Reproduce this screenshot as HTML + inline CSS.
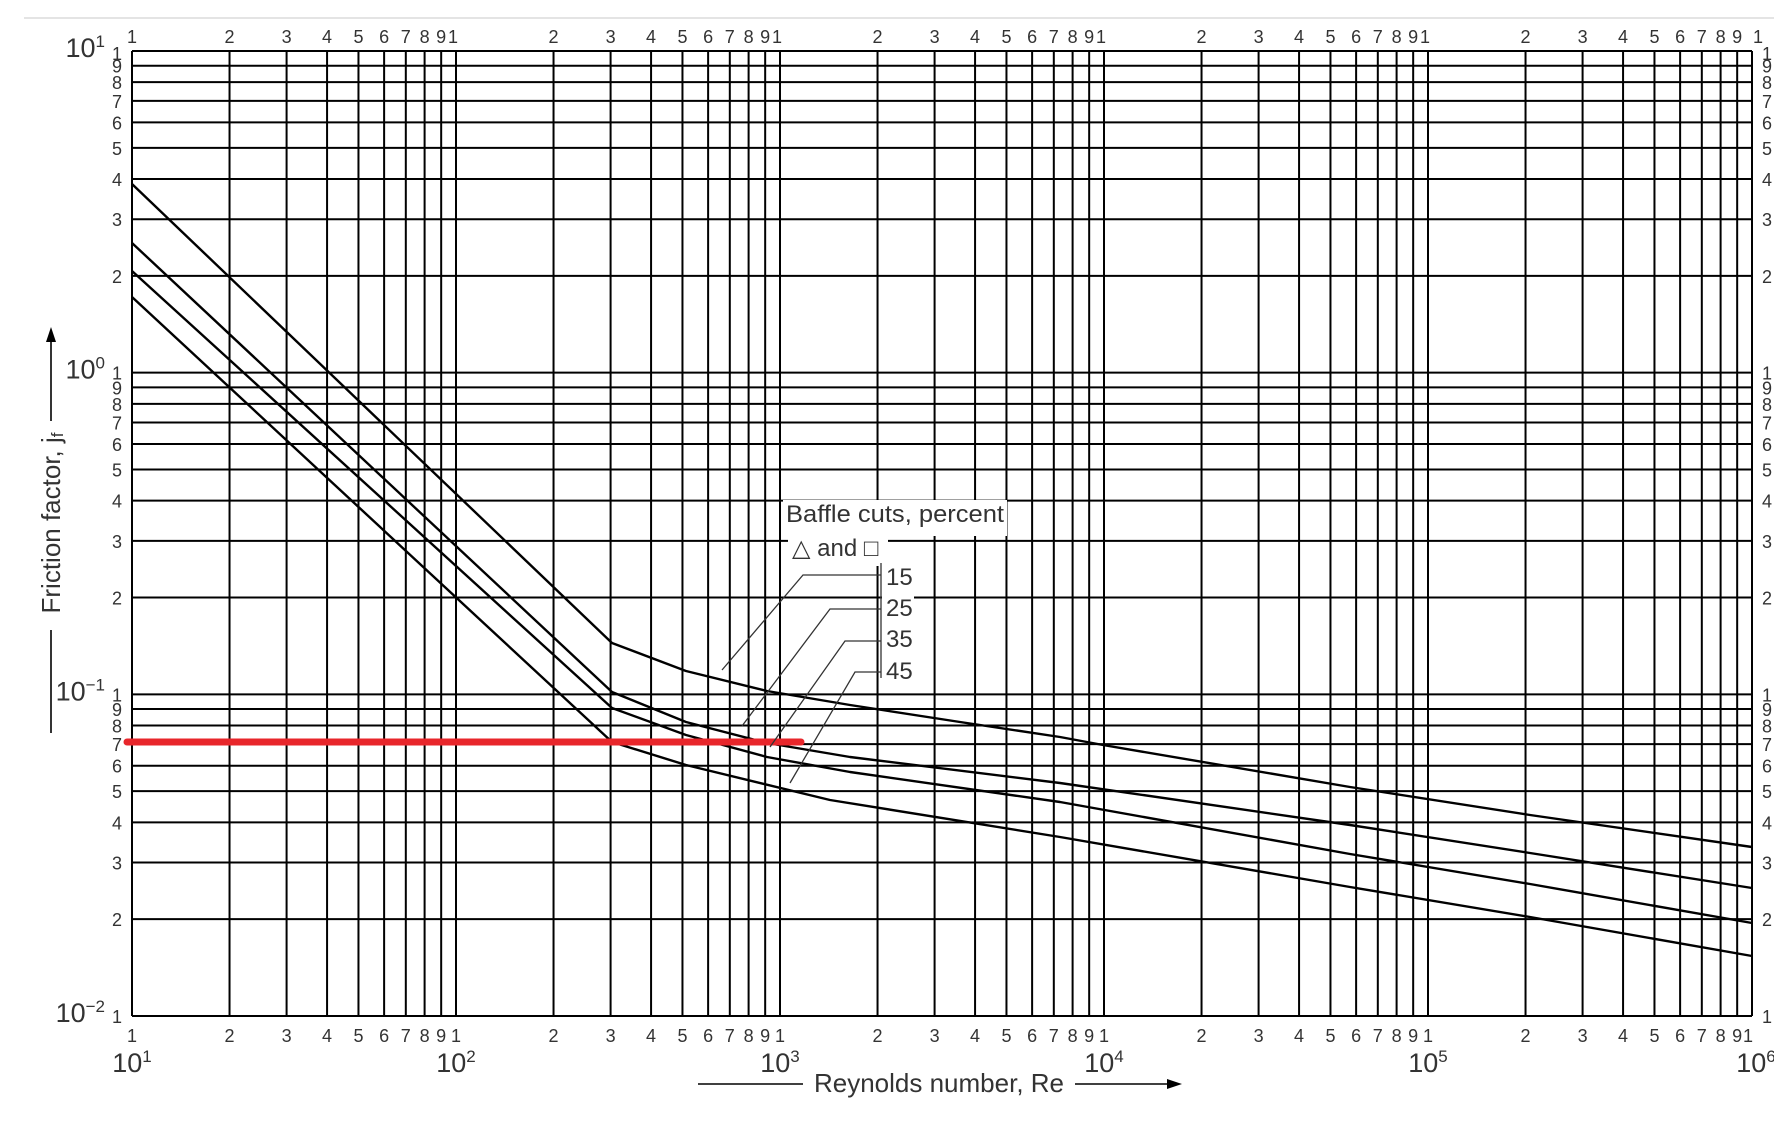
<!DOCTYPE html>
<html><head><meta charset="utf-8"><style>
body{margin:0;background:#fff;}
svg{display:block;font-family:"Liberation Sans",sans-serif;}
</style></head><body>
<svg id="s" width="1774" height="1131" viewBox="0 0 1774 1131" xmlns="http://www.w3.org/2000/svg">
<line x1="24" y1="18" x2="1774" y2="18" stroke="#e4e4e4" stroke-width="2"/>
<g id="grid" stroke="#000" stroke-width="2"></g>
<g id="labels" fill="#333" font-size="18"></g>
<g fill="none" stroke="#000" stroke-width="2.4" stroke-linejoin="round">
<polyline points="132,184 612,643 686,671 767,691 850,705 960,722 1060,737 1103,745 1350,787 1530,815 1752,847"/>
<polyline points="132,243 612,692 686,722 767,743 850,757 1060,783 1350,825 1530,853 1752,888"/>
<polyline points="132,271 612,708 686,735 767,757 850,772 1060,802 1350,854 1530,884 1752,923"/>
<polyline points="132,297 612,742 686,765 830,800 1060,837 1350,887 1530,917 1752,956"/>
</g>
<line x1="127" y1="742" x2="801" y2="742" stroke="#e8262b" stroke-width="7" stroke-linecap="round"/>
<rect x="783" y="500" width="224" height="36" fill="#fff"/>
<rect x="788" y="536" width="100" height="30" fill="#fff"/>
<rect x="882" y="564" width="32" height="120" fill="#fff"/>
<g stroke="#333" stroke-width="1.3" fill="none">
<polyline points="881,575 803,575 722,670"/>
<polyline points="881,609 830,609 742,726"/>
<polyline points="881,641 845,641 770,747"/>
<polyline points="881,672 855,672 790,783"/>
<line x1="881" y1="563" x2="881" y2="678"/>
</g>
<g fill="#333" font-size="24">
<text x="786" y="522" textLength="218" lengthAdjust="spacingAndGlyphs">Baffle cuts, percent</text>
<text x="792" y="556">△ and □</text>
<text x="886" y="585">15</text>
<text x="886" y="616">25</text>
<text x="886" y="647">35</text>
<text x="886" y="679">45</text>
</g>
<g fill="#333" font-size="26">
<text x="53" y="523" transform="rotate(-90 53 523)" text-anchor="middle" dominant-baseline="middle">Friction factor, j<tspan font-size="17" dy="6">f</tspan></text>
<text x="939" y="1092" text-anchor="middle">Reynolds number, Re</text>
</g>
<g stroke="#000" stroke-width="1.6">
<line x1="51" y1="340" x2="51" y2="421"/><line x1="51" y1="630" x2="51" y2="733"/>
<line x1="698" y1="1084" x2="803" y2="1084"/><line x1="1075" y1="1084" x2="1170" y2="1084"/>
</g>
<polygon points="51,327 46,342 56,342" fill="#000"/>
<polygon points="1182,1084 1167,1079 1167,1089" fill="#000"/>
</svg>
<script>
var ns="http://www.w3.org/2000/svg",g=document.getElementById('grid'),L=document.getElementById('labels');
function el(p,t,a,txt){var e=document.createElementNS(ns,t);for(var k in a)e.setAttribute(k,a[k]);if(txt!=null)e.textContent=txt;p.appendChild(e);return e;}
var x0=132,x1=1752,y0=51,y1=1016,dx=(x1-x0)/5,dy=(y1-y0)/3;
for(var d=0;d<5;d++)for(var m=1;m<=9;m++){var x=x0+(d+Math.log10(m))*dx;
el(g,'line',{x1:x,y1:y0,x2:x,y2:y1});
el(L,'text',{x:m==1?x+(d==0?0:-3):x,y:43,'text-anchor':'middle'},m);
el(L,'text',{x:x,y:1042,'text-anchor':'middle'},m);}
el(g,'line',{x1:x1,y1:y0,x2:x1,y2:y1});
el(L,'text',{x:x1+6,y:43,'text-anchor':'middle'},1);
el(L,'text',{x:x1-4,y:1042,'text-anchor':'middle'},1);
for(var d=0;d<3;d++)for(var m=1;m<=9;m++){var y=y1-(d+Math.log10(m))*dy;
el(g,'line',{x1:x0,y1:y,x2:x1,y2:y});
el(L,'text',{x:117,y:y+7,'text-anchor':'middle'},m);
el(L,'text',{x:1767,y:y+7,'text-anchor':'middle'},m);}
el(g,'line',{x1:x0,y1:y0,x2:x1,y2:y0});
el(L,'text',{x:117,y:y0+9,'text-anchor':'middle'},1);
el(L,'text',{x:1767,y:y0+9,'text-anchor':'middle'},1);
var ex=['1','2','3','4','5','6'];
for(var d=0;d<=5;d++){var t=el(L,'text',{x:x0+d*dx-(d==5?-4:0),y:1072,'text-anchor':'middle','font-size':27},'10');el(t,'tspan',{dy:-10,'font-size':17},ex[d]);}
var ye=['1','0','\u22121','\u22122'];
for(var d=0;d<=3;d++){var t=el(L,'text',{x:105,y:y0+d*dy+6,'text-anchor':'end','font-size':27},'10');el(t,'tspan',{dy:-10,'font-size':17},ye[d]);}
</script>
</body></html>
